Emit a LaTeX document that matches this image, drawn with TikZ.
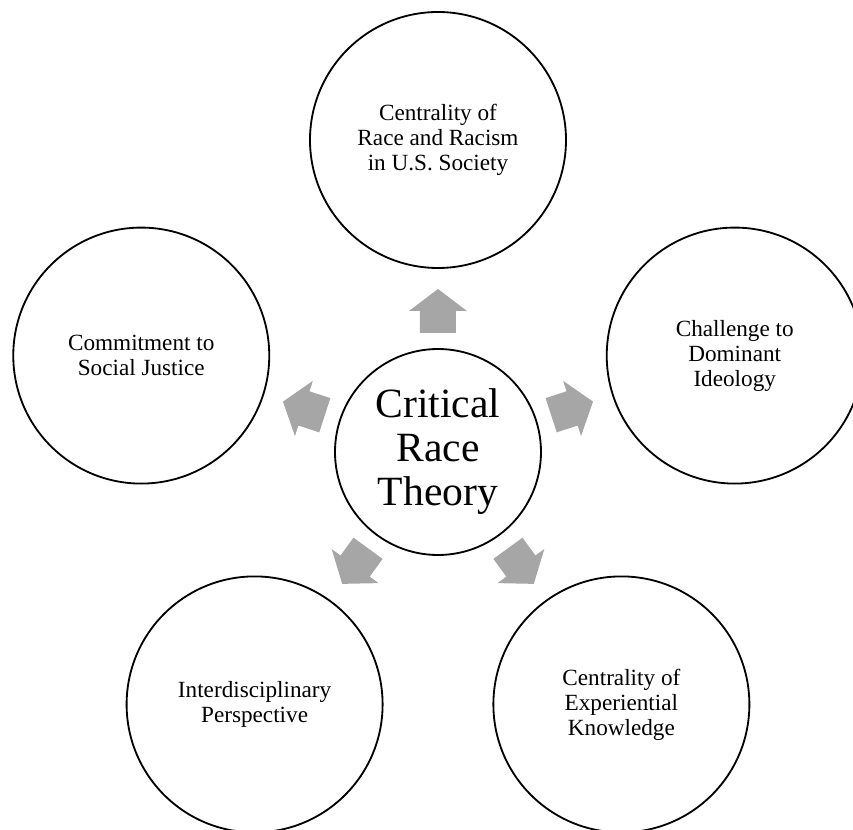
\documentclass[tikz,border=0pt]{standalone}
\usepackage{fontspec}
\setmainfont{Liberation Serif}
\definecolor{arrowgray}{HTML}{A6A6A6}

\begin{document}
\begin{tikzpicture}[
    hub/.style={circle, draw, line width=1.3pt, minimum size=5.15cm, inner sep=0pt,
        align=center, font=\fontsize{29.6}{31.3}\selectfont},
    tenet/.style={circle, draw, line width=1.3pt, minimum size=6.4cm, inner sep=0pt,
        align=center, font=\fontsize{16.5}{17.8}\selectfont}]
    \useasboundingbox (-10.95,-9.45) rectangle (10.375,11.3);
    % centre and the five tenets on a pentagon
    \node[hub] (crt) at (0,0) {Critical\\Race\\Theory};
    \node[tenet] (race) at (90:7.8) {Centrality of\\Race and Racism\\in U.S. Society};
    \node[tenet] (ideology) at (18:7.8) {Challenge to\\Dominant\\Ideology};
    \node[tenet] (knowledge) at (-54:7.8) {Centrality of\\Experiential\\Knowledge};
    \node[tenet] (interdisc) at (-126:7.8) {Interdisciplinary\\Perspective};
    \node[tenet] (justice) at (162:7.8) {Commitment to\\Social Justice};
    % block arrows pointing outwards
    \fill[arrowgray, rotate=90] (2.975,-0.45) -- (3.525,-0.45) -- (3.525,-0.725) -- (4.075,0) -- (3.525,0.725) -- (3.525,0.45) -- (2.975,0.45) -- cycle;
    \fill[arrowgray, rotate=18] (2.975,-0.45) -- (3.525,-0.45) -- (3.525,-0.725) -- (4.075,0) -- (3.525,0.725) -- (3.525,0.45) -- (2.975,0.45) -- cycle;
    \fill[arrowgray, rotate=-54] (2.975,-0.45) -- (3.525,-0.45) -- (3.525,-0.725) -- (4.075,0) -- (3.525,0.725) -- (3.525,0.45) -- (2.975,0.45) -- cycle;
    \fill[arrowgray, rotate=-126] (2.975,-0.45) -- (3.525,-0.45) -- (3.525,-0.725) -- (4.075,0) -- (3.525,0.725) -- (3.525,0.45) -- (2.975,0.45) -- cycle;
    \fill[arrowgray, rotate=162] (2.975,-0.45) -- (3.525,-0.45) -- (3.525,-0.725) -- (4.075,0) -- (3.525,0.725) -- (3.525,0.45) -- (2.975,0.45) -- cycle;
\end{tikzpicture}
\end{document}
